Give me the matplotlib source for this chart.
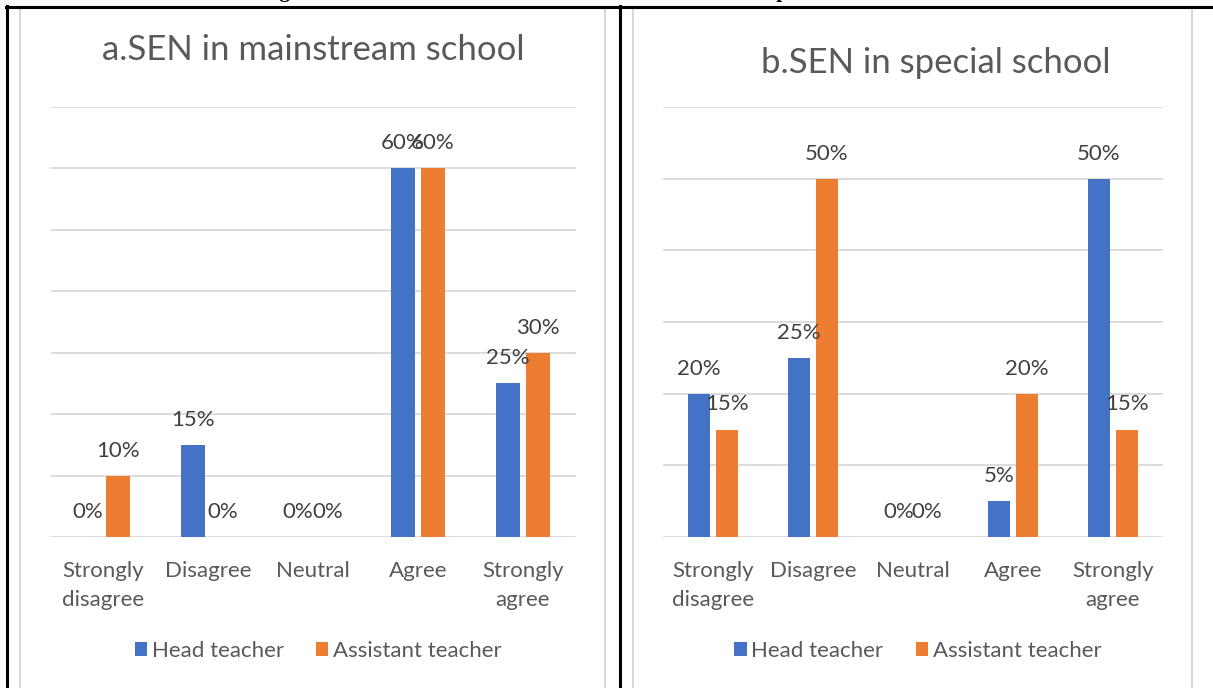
import matplotlib
matplotlib.use("Agg")
import matplotlib.pyplot as plt
from matplotlib.patches import Rectangle
from matplotlib.lines import Line2D
import numpy as np

categories = ["Strongly\ndisagree", "Disagree", "Neutral", "Agree", "Strongly\nagree"]
series_names = ["Head teacher", "Assistant teacher"]

# a. SEN in mainstream school (percent)
main_head = [0, 15, 0, 60, 25]
main_assist = [10, 0, 0, 60, 30]

# b. SEN in special school (percent)
special_head = [20, 25, 0, 5, 50]
special_assist = [15, 50, 0, 20, 15]

title_a = "a.SEN in mainstream school"
title_b = "b.SEN in special school"
caption = "Figure 3: Suitable education for SEN in mainstream and special education schools"

BLUE = "#4472C4"
ORANGE = "#ED7D31"
TXT = "#595959"
LBL = "#404040"
GRID = "#D9D9D9"
FONT = "Lato"

W, H = 1213, 688
fig = plt.figure(figsize=(W / 100, H / 100), dpi=100)
fig.patch.set_facecolor("white")

def fx(px):
    return px / W

def fy(py):
    return 1 - py / H

# page table lines (black) and chart frames (gray)
fig.add_artist(Line2D([fx(6), fx(1213)], [fy(6.5), fy(6.5)], color="black", lw=2.2))
fig.add_artist(Line2D([fx(6.5), fx(6.5)], [fy(6), fy(690)], color="black", lw=2.2))
fig.add_artist(Line2D([fx(620), fx(620)], [fy(6), fy(690)], color="black", lw=2.2))
fig.add_artist(Rectangle((fx(20), fy(695)), fx(605) - fx(20), fy(8) - fy(695),
                         fill=False, edgecolor=GRID, lw=1.5))
fig.add_artist(Rectangle((fx(633), fy(695)), fx(1192) - fx(633), fy(8) - fy(695),
                         fill=False, edgecolor=GRID, lw=1.5))

fig.text(fx(625), fy(-3.5), caption, ha="center", va="baseline",
         family="Liberation Serif", weight="bold", fontsize=15, color="black")

def panel(rect, head, assist, ymax, width, offset, title, title_xy, leg_x):
    ax = fig.add_axes(rect)
    x = np.arange(len(categories))
    ax.bar(x - offset, head, width, color=BLUE, label=series_names[0], zorder=3)
    ax.bar(x + offset, assist, width, color=ORANGE, label=series_names[1], zorder=3)
    ax.set_xlim(-0.5, len(categories) - 0.5)
    ax.set_ylim(0, ymax)
    ax.set_yticks(np.arange(0, ymax + 1, 10))
    ax.yaxis.grid(True, color=GRID, lw=1.3, zorder=0)
    ax.set_yticklabels([])
    ax.tick_params(axis="y", length=0)
    ax.set_xticks(x)
    ax.set_xticklabels(categories, fontsize=16, color=TXT, family=FONT, linespacing=1.58)
    ax.tick_params(axis="x", length=0, pad=17)
    for s in ax.spines.values():
        s.set_visible(False)
    for xi, v in zip(x - offset, head):
        ax.annotate(f"{v}%", (xi, v), xytext=(0, 18), textcoords="offset points",
                    ha="center", va="center", fontsize=16, color=LBL, family=FONT)
    for xi, v in zip(x + offset, assist):
        ax.annotate(f"{v}%", (xi, v), xytext=(0, 18), textcoords="offset points",
                    ha="center", va="center", fontsize=16, color=LBL, family=FONT)
    leg = ax.legend(loc="center", bbox_to_anchor=(leg_x, -0.265), ncol=2, frameon=False,
                    prop={"family": FONT, "size": 16}, handlelength=0.55, handleheight=0.55,
                    handletextpad=0.22, columnspacing=1.45)
    for t in leg.get_texts():
        t.set_color(TXT)
    fig.text(fx(title_xy[0]), fy(title_xy[1]), title, ha="center", va="center",
             fontsize=25, color=TXT, family=FONT)
    return ax

panel([fx(50.5), fy(537), fx(575.5) - fx(50.5), fy(107) - fy(537)],
      main_head, main_assist, 70, 0.228, 0.143, title_a, (313, 50), 0.51)
panel([fx(663), fy(537), fx(1163) - fx(663), fy(107) - fy(537)],
      special_head, special_assist, 60, 0.22, 0.14, title_b, (936, 63), 0.51)

fig.savefig("out.png", dpi=100, facecolor="white")
